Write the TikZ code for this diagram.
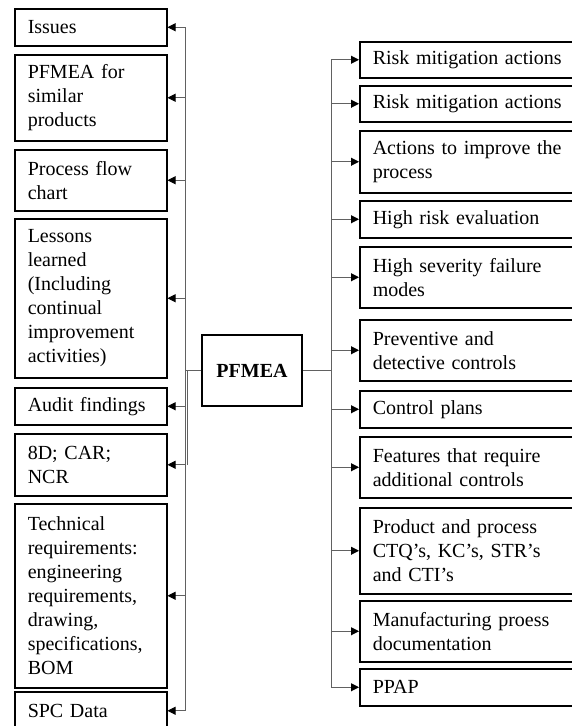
\documentclass[tikz,border=0pt]{standalone}
\usepackage{fontspec}
\setmainfont{Liberation Serif}
\usetikzlibrary{arrows.meta}
\begin{document}
\begin{tikzpicture}[x=1pt,y=-1pt,
  font=\fontsize{20}{24}\selectfont,
  lbox/.style={draw=black, line width=1.5pt, anchor=north west, align=left,
    text width=126pt, inner xsep=13pt, inner ysep=0pt},
  rbox/.style={draw=black, line width=1.5pt, anchor=north west, align=left,
    text width=209pt, inner xsep=13pt, inner ysep=0pt},
  conn/.style={draw=black!62, line width=1pt},
  arr/.style={conn, -{Triangle[length=8pt,width=8pt,color=black]}}]
\useasboundingbox (0,0) rectangle (572,726);
\clip (0,0) rectangle (572,726);
% left boxes
\node[lbox, minimum height=37pt] (iss) at (14,8) {Issues};
\node[lbox, minimum height=86pt] (sim) at (14,54) {PFMEA for\\similar\\products};
\node[lbox, minimum height=61pt] (flow) at (14,149) {Process flow\\chart};
\node[lbox, minimum height=159pt] (les) at (14,218) {Lessons\\learned\\(Including\\continual\\improvement\\activities)};
\node[lbox, minimum height=37pt] (aud) at (14,387) {Audit findings};
\node[lbox, minimum height=62pt] (d8) at (14,433) {8D; CAR;\\NCR};
\node[lbox, minimum height=184pt] (tech) at (14,503) {Technical\\requirements:\\engineering\\requirements,\\drawing,\\specifications,\\BOM};
\node[lbox, minimum height=38pt, anchor=north west, text depth=0pt] (spc) at (14,691) {\raisebox{0pt}[14pt][0pt]{SPC Data}};
% centre
\node[draw=black, line width=1.5pt, minimum width=100pt, minimum height=71pt, inner sep=0pt, font=\fontsize{20}{24}\selectfont\bfseries] (pf) at (252,370.5) {PFMEA};
% right boxes
\node[rbox, minimum height=36pt] (r1) at (359,41) {Risk mitigation actions};
\node[rbox, minimum height=36pt] (r2) at (359,85) {Risk mitigation actions};
\node[rbox, minimum height=62pt] (r3) at (359,130) {Actions to improve the\\process};
\node[rbox, minimum height=37pt] (r4) at (359,200) {High risk evaluation};
\node[rbox, minimum height=61pt] (r5) at (359,246) {High severity failure\\modes};
\node[rbox, minimum height=61pt] (r6) at (359,319) {Preventive and\\detective controls};
\node[rbox, minimum height=37pt] (r7) at (359,390) {Control plans};
\node[rbox, minimum height=61pt] (r8) at (359,436) {Features that require\\additional controls};
\node[rbox, minimum height=86pt] (r9) at (359,507) {Product and process\\CTQ’s, KC’s, STR’s\\and CTI’s};
\node[rbox, minimum height=61pt] (r10) at (359,600) {Manufacturing proess\\documentation};
\node[rbox, minimum height=37pt] (r11) at (359,668) {PPAP};
% left connectors
\coordinate (lj) at (185,370.5);
\draw[conn] (pf.west) -- (lj);
\draw[conn] (lj |- iss.east) -- (lj |- spc.east);
\draw[conn] ([xshift=2pt]lj) -- ([xshift=2pt]lj |- d8.east);
\foreach \b in {iss,sim,flow,les,aud,d8,tech,spc}
  \draw[arr] (lj |- \b.east) -- (\b.east);
% right connectors
\coordinate (rj) at (331,370.5);
\draw[conn] (pf.east) -- (rj);
\draw[conn] (rj |- r1.west) -- (rj |- r11.west);
\foreach \b in {r1,r2,r3,r4,r5,r6,r7,r8,r9,r10,r11}
  \draw[arr] (rj |- \b.west) -- (\b.west);
\end{tikzpicture}
\end{document}
